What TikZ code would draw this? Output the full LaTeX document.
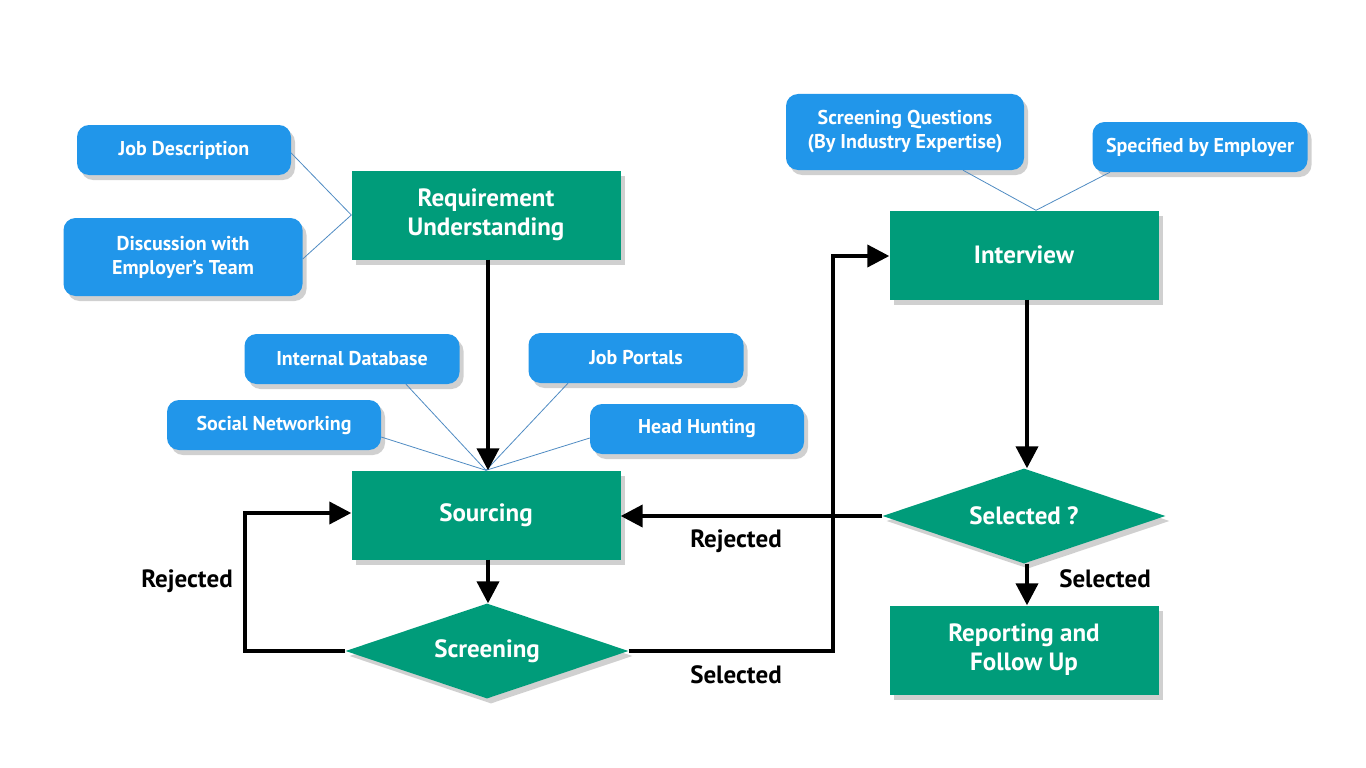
\documentclass[tikz,border=0pt]{standalone}
\usepackage{fontspec}
\setmainfont{PT Sans}
\usetikzlibrary{shapes.geometric,shadows,arrows.meta,calc}
\definecolor{stepgreen}{RGB}{0,156,122}
\definecolor{infoblue}{RGB}{33,150,234}
\definecolor{thinline}{RGB}{80,140,195}
\begin{document}
\begin{tikzpicture}[x=1pt,y=-1pt,
  shd/.style={drop shadow={opacity=0.3,shadow xshift=4pt,shadow yshift=-5pt,fill=black!60}},
  stepbox/.style={fill=stepgreen,text=white,font=\fontsize{25}{29}\selectfont\bfseries,align=center,minimum width=269pt,minimum height=89pt,inner sep=0pt,shd},
  infobox/.style={fill=infoblue,text=white,font=\fontsize{20}{24}\selectfont\bfseries,align=center,rounded corners=12pt,inner sep=0pt,shd},
  decision/.style={diamond,fill=stepgreen,text=white,font=\fontsize{25}{29}\selectfont\bfseries,minimum width=283pt,minimum height=95pt,inner sep=0pt,aspect=3,shd},
  flow/.style={line width=4pt,-{Triangle[width=22pt,length=22pt]}},
  link/.style={draw=thinline,line width=0.8pt},
  lbl/.style={font=\fontsize{25}{29}\selectfont\bfseries,text=black}]
\useasboundingbox[fill=white] (0,0) rectangle (1366,768);

% main steps
\node[stepbox] (req) at (486,215) {Requirement\\Understanding};
\node[stepbox] (src) at (486,515) {Sourcing};
\node[stepbox] (int) at (1024,255) {Interview};
\node[stepbox] (rep) at (1024,650) {Reporting and\\Follow Up};
\node[decision] (scr) at (487,651) {Screening};
\node[decision] (sel) at (1024,516) {Selected ?};

% info boxes
\node[infobox,minimum width=214pt,minimum height=50pt] (jd) at (184,150) {Job Description};
\node[infobox,minimum width=239pt,minimum height=78pt] (disc) at (183,257) {Discussion with\\Employer’s Team};
\node[infobox,minimum width=215pt,minimum height=50pt] (idb) at (352,359) {Internal Database};
\node[infobox,minimum width=215pt,minimum height=50pt] (jp) at (636,358) {Job Portals};
\node[infobox,minimum width=214pt,minimum height=50pt] (sn) at (274,425) {Social Networking};
\node[infobox,minimum width=214pt,minimum height=50pt] (hh) at (697,429) {Head Hunting};
\node[infobox,minimum width=238pt,minimum height=76pt] (sq) at (905,132) {Screening Questions\\(By Industry Expertise)};
\node[infobox,minimum width=215pt,minimum height=50pt] (se) at (1200,147) {Specified by Employer};

% thin links
\draw[link] ([yshift=-3pt]jd.east) -- (req.west);
\draw[link] ([yshift=-2pt]disc.east) -- (req.west);
\draw[link] ([xshift=54pt]idb.south) -- (src.north);
\draw[link] ([xshift=-68pt]jp.south) -- (src.north);
\draw[link] ([yshift=-12pt]sn.east) -- (src.north);
\draw[link] ([yshift=-9pt]hh.west) -- (src.north);
\draw[link] ([xshift=58pt]sq.south) -- ([xshift=12pt]int.north);
\draw[link] ([xshift=-90pt]se.south) -- ([xshift=12pt]int.north);

% flow arrows
\draw[flow] ([xshift=2pt]req.south) -- ([xshift=2pt]src.north);
\draw[flow] ([xshift=2pt]src.south) -- ([xshift=1pt]scr.north);
\coordinate (loopb) at (245,651);
\draw[flow] (scr.west) -- (loopb) |- ([yshift=2pt]src.west);
\coordinate (upb) at (833,651);
\draw[flow] (scr.east) -- (upb) |- ([yshift=-1pt]int.west);
\draw[flow] ([xshift=3pt]int.south) -- ([xshift=3pt]sel.north);
\draw[flow] (sel.west) -- ([yshift=-1pt]src.east);
\draw[flow] ([xshift=3pt]sel.south) -- ([xshift=3pt]rep.north);

% labels
\node[lbl] (l1) at (187,581) {Rejected};
\node[lbl] (l2) at (736,541) {Rejected};
\node[lbl] (l3) at (736,675) {Selected};
\node[lbl] (l4) at (1105,579) {Selected};
\end{tikzpicture}
\end{document}
